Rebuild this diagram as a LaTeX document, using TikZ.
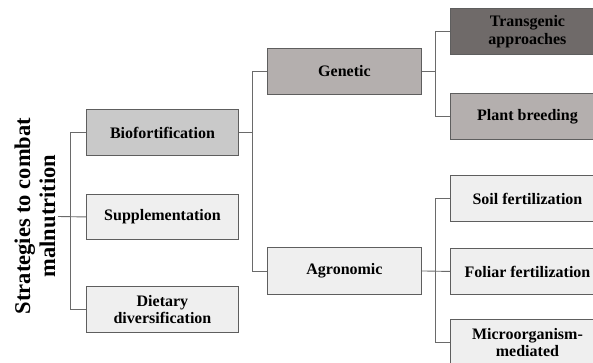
\documentclass[tikz,border=0pt]{standalone}
\usepackage{fontspec}
\setmainfont{Liberation Serif}
\definecolor{lightbox}{HTML}{EFEFEF}
\definecolor{biobox}{HTML}{C9C9C9}
\definecolor{genbox}{HTML}{B4AFAE}
\definecolor{darkbox}{HTML}{6F6A69}
\definecolor{edgecol}{HTML}{5E5E5E}
\definecolor{linecol}{HTML}{6A6A6A}
\begin{document}
\begin{tikzpicture}[x=1pt,y=-1pt,
  box/.style={draw=edgecol,line width=0.9pt,inner sep=0pt,align=center,
    font=\bfseries\fontsize{16}{17.5}\selectfont,anchor=north west},
  wbox/.style={box,minimum width=152pt,minimum height=46pt},
  rbox/.style={box,minimum width=154pt,minimum height=46pt},
  conn/.style={draw=linecol,line width=0.9pt}]
\clip (0,0) rectangle (593,363);
\fill[white] (0,0) rectangle (593,363);
% title
\node[rotate=90,align=center,font=\bfseries\fontsize{22.5}{25}\selectfont,inner sep=0pt] (title) at (35,216)
  {Strategies to combat\\malnutrition};
% left column
\node[wbox,fill=biobox] (bio) at (86,109) {Biofortification};
\node[wbox,fill=lightbox,minimum height=45pt] (sup) at (86,194) {Supplementation};
\node[wbox,fill=lightbox] (diet) at (86,286) {Dietary\\diversification};
% middle column
\node[wbox,fill=genbox,minimum width=154pt] (gen) at (267,48) {Genetic};
\node[wbox,fill=lightbox,minimum width=154pt,minimum height=47pt] (agr) at (267,247) {Agronomic};
% right column
\node[rbox,fill=darkbox] (trans) at (450,8) {Transgenic\\approaches};
\node[rbox,fill=genbox] (plant) at (450,93) {Plant breeding};
\node[rbox,fill=lightbox] (soil) at (450,175) {Soil fertilization};
\node[rbox,fill=lightbox] (fol) at (450,248) {Foliar fertilization};
\node[rbox,fill=lightbox] (micro) at (450,319) {Microorganism-\\mediated};
% bus coordinates
\coordinate (t0) at (58,216.5);
\coordinate (b1) at (70,0);
\coordinate (b2) at (252,0);
\coordinate (b3) at (435,0);
% connectors
\draw[conn] (t0) -- (sup.west);
\draw[conn] (bio.west) -- (bio.west -| b1) -- (diet.west -| b1) -- (diet.west);
\draw[conn] (bio.east) -- (bio.east -| b2);
\draw[conn] (gen.west) -- (gen.west -| b2) -- (agr.west -| b2) -- (agr.west);
\draw[conn] (gen.east) -- (gen.east -| b3);
\draw[conn] (trans.west) -- (trans.west -| b3) -- (plant.west -| b3) -- (plant.west);
\draw[conn] (agr.east) -- (fol.west);
\draw[conn] (soil.west) -- (soil.west -| b3) -- (micro.west -| b3) -- (micro.west);
\end{tikzpicture}
\end{document}
